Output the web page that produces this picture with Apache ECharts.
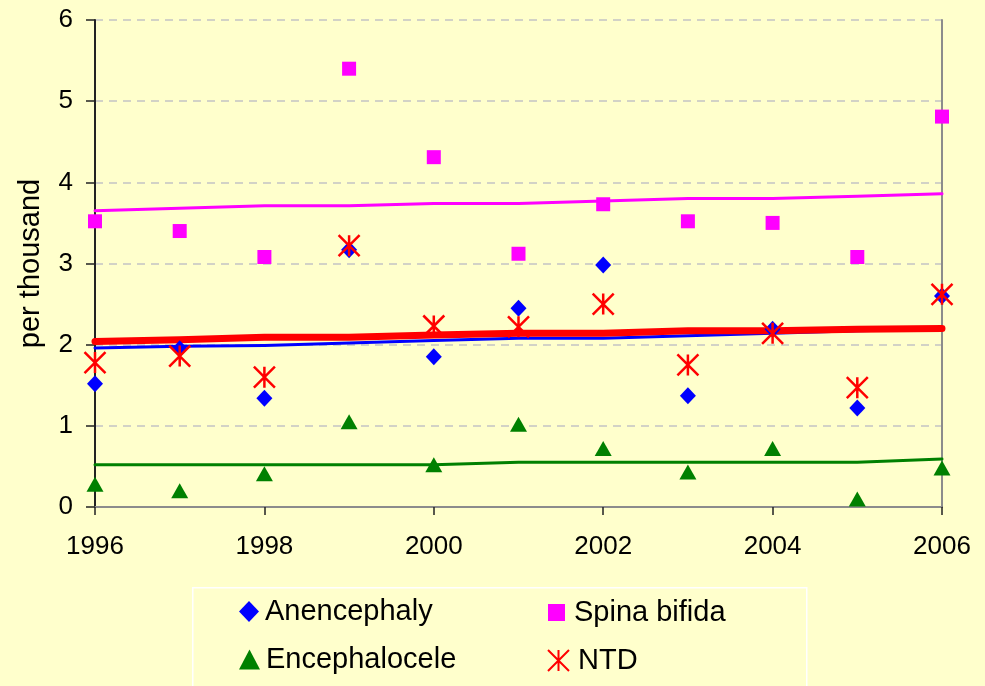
<!DOCTYPE html>
<html>
<head>
<meta charset="utf-8">
<script src="https://cdn.jsdelivr.net/npm/echarts@6/dist/echarts.min.js"></script>
<style>
html,body{margin:0;padding:0;background:#FFFFCC;}
#chart{width:985px;height:686px;}
</style>
</head>
<body>
<div id="chart"></div>
<script>
// ---- data ----
const years = [1996, 1997, 1998, 1999, 2000, 2001, 2002, 2003, 2004, 2005, 2006];
const anencephaly   = [1.52, 1.95, 1.34, 3.17, 1.85, 2.45, 2.98, 1.37, 2.19, 1.22, 2.60];
const spinaBifida   = [3.52, 3.40, 3.08, 5.40, 4.31, 3.12, 3.73, 3.52, 3.50, 3.08, 4.81];
const encephalocele = [0.28, 0.20, 0.41, 1.05, 0.52, 1.02, 0.72, 0.43, 0.72, 0.10, 0.48];
const ntd           = [1.78, 1.86, 1.60, 3.22, 2.23, 2.22, 2.50, 1.75, 2.14, 1.47, 2.62];
const anencephalyTrend   = [1.96, 1.98, 1.99, 2.02, 2.05, 2.08, 2.08, 2.11, 2.14, 2.17, 2.19];
const spinaBifidaTrend   = [3.65, 3.68, 3.71, 3.71, 3.74, 3.74, 3.77, 3.80, 3.80, 3.83, 3.86];
const encephaloceleTrend = [0.52, 0.52, 0.52, 0.52, 0.52, 0.55, 0.55, 0.55, 0.55, 0.55, 0.59];
const ntdTrend           = [2.04, 2.06, 2.09, 2.09, 2.12, 2.14, 2.14, 2.17, 2.17, 2.19, 2.20];
const yTicks = [0, 1, 2, 3, 4, 5, 6];
const xTicks = [1996, 1998, 2000, 2002, 2004, 2006];
const yAxisName = 'per thousand';

const pairs = arr => years.map((y, i) => [y, arr[i]]);
const FONT = "'Liberation Sans', Arial, sans-serif";
const asteriskPath = 'path://M0,0L20,20M20,0L0,20M10,0L10,20';

const chart = echarts.init(document.getElementById('chart'));
const lineSeries = (name, data, color, width, z) => ({
  name, type: 'line', data: pairs(data), showSymbol: false, symbol: 'none',
  lineStyle: { color, width, cap: 'round', join: 'round' }, z, silent: true
});
const legendItem = (name, left, top, w, h, pad) => ({
  data: [name], left, top, itemWidth: w, itemHeight: h,
  padding: 0, itemGap: 0, selectedMode: false,
  textStyle: { fontFamily: FONT, fontSize: 29, color: '#000', padding: [0, 0, 0, pad] }
});
const borderAxis = {
  axisLine: { show: true, lineStyle: { color: '#8c8c8c', width: 2 } },
  axisTick: { show: false }, axisLabel: { show: false }, splitLine: { show: false }
};
chart.setOption({
  backgroundColor: '#FFFFCC',
  animation: false,
  grid: { left: 95, right: 43, top: 20, bottom: 179 },
  xAxis: [{
    type: 'value', min: 1996, max: 2006, interval: 2,
    axisLine: { show: true, lineStyle: { color: '#222', width: 2 } },
    axisTick: { show: true, length: 8, lineStyle: { color: '#222', width: 1.5 } },
    axisLabel: { margin: 27, fontFamily: FONT, fontSize: 26, color: '#000',
                 formatter: v => xTicks.includes(v) ? String(v) : '' },
    splitLine: { show: false }
  }, Object.assign({ type: 'value', position: 'top', min: 1996, max: 2006, interval: 2 }, borderAxis)],
  yAxis: [{
    type: 'value', min: 0, max: 6, interval: 1,
    name: yAxisName, nameLocation: 'middle', nameGap: 50,
    nameTextStyle: { fontFamily: FONT, fontSize: 29, color: '#000' },
    axisLine: { show: true, lineStyle: { color: '#222', width: 2 } },
    axisTick: { show: true, length: 9, lineStyle: { color: '#222', width: 1.5 } },
    axisLabel: { margin: 22, fontFamily: FONT, fontSize: 26, color: '#000',
                 formatter: v => yTicks.includes(v) ? String(v) : '' },
    splitLine: { show: true, lineStyle: { color: '#c4c4c4', width: 1.5, type: [8, 6] } }
  }, Object.assign({ type: 'value', position: 'right', min: 0, max: 6, interval: 1 }, borderAxis)],
  legend: [
    legendItem('Anencephaly', 239, 597, 20, 21, 1),
    legendItem('Spina bifida', 548, 598, 17, 17, 4),
    legendItem('Encephalocele', 239, 645, 21, 20, 1),
    legendItem('NTD', 547, 646, 21, 21, 4)
  ],
  graphic: [{
    type: 'rect', left: 192, top: 587, silent: true, z: -1,
    shape: { width: 614, height: 130 },
    style: { fill: 'transparent', stroke: '#ffffff', lineWidth: 1.5 }
  }],
  series: [
    lineSeries('Encephalocele trend', encephaloceleTrend, '#008000', 3, 1),
    lineSeries('Spina bifida trend', spinaBifidaTrend, '#FF00FF', 3, 1),
    lineSeries('Anencephaly trend', anencephalyTrend, '#0000FF', 3, 1),
    lineSeries('NTD trend', ntdTrend, '#FF0000', 7, 1),
    { name: 'Anencephaly', type: 'scatter', data: pairs(anencephaly), symbol: 'diamond',
      symbolSize: [16, 17], itemStyle: { color: '#0000FF', opacity: 1 }, z: 3 },
    { name: 'Spina bifida', type: 'scatter', data: pairs(spinaBifida), symbol: 'rect',
      symbolSize: 14, itemStyle: { color: '#FF00FF', opacity: 1 }, z: 3 },
    { name: 'Encephalocele', type: 'scatter', data: pairs(encephalocele), symbol: 'triangle',
      symbolSize: [17, 15], itemStyle: { color: '#008000', opacity: 1 }, z: 3 },
    { name: 'NTD', type: 'scatter', data: pairs(ntd), symbol: asteriskPath,
      symbolSize: 21, itemStyle: { color: '#FF0000', borderColor: '#FF0000', borderWidth: 2.5, opacity: 1 }, z: 4 }
  ]
});
</script>
</body>
</html>
